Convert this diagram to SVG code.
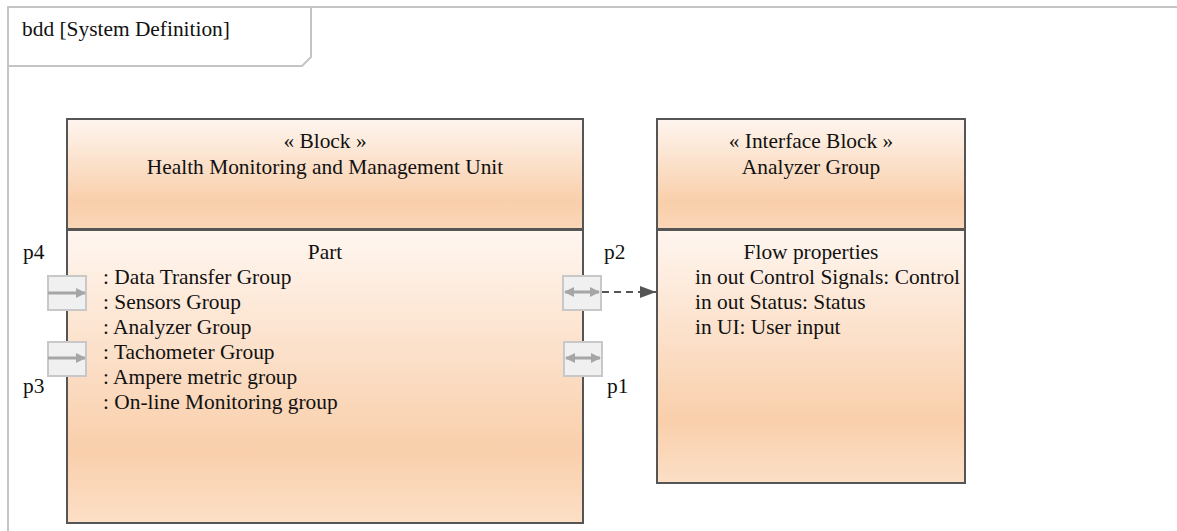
<svg xmlns="http://www.w3.org/2000/svg" width="1177" height="531" viewBox="0 0 1177 531">
<style>
text{font-family:"Liberation Serif","Times New Roman",serif;font-size:21.4px;fill:#111}
.frame{fill:none;stroke:#c4c4c4;stroke-width:2}
.blk{stroke:#555;stroke-width:2}
.port{fill:#f0f0f0;stroke:#c8c8c8;stroke-width:2}
.parr{stroke:#a6a6a6;stroke-width:3;fill:none}
.c{text-anchor:middle}
</style>
<defs>
<linearGradient id="hg" x1="0" y1="0" x2="0" y2="1">
<stop offset="0" stop-color="#fef5ef"/>
<stop offset="0.75" stop-color="#f9cfab"/>
<stop offset="1" stop-color="#fad6b8"/>
</linearGradient>
<linearGradient id="bg" x1="0" y1="0" x2="0" y2="1">
<stop offset="0" stop-color="#fff6f0"/>
<stop offset="0.75" stop-color="#f9cfab"/>
<stop offset="1" stop-color="#fcdfc6"/>
</linearGradient>
<marker id="pa" markerWidth="10" markerHeight="10" refX="9" refY="5" orient="auto" markerUnits="userSpaceOnUse">
<path d="M0,0 L10,5 L0,10 z" fill="#a6a6a6"/>
</marker>
<marker id="pas" markerWidth="10" markerHeight="10" refX="1" refY="5" orient="auto" markerUnits="userSpaceOnUse">
<path d="M10,0 L0,5 L10,10 z" fill="#a6a6a6"/>
</marker>
<marker id="da" markerWidth="16" markerHeight="12" refX="16" refY="6" orient="auto" markerUnits="userSpaceOnUse">
<path d="M0,0 L16,6 L0,12 z" fill="#555"/>
</marker>
</defs>
<g id="frame">
<path class="frame" d="M8,531 L8,7 L1177,7"/>
<path class="frame" d="M8,66 L302,66 L311,57 L311,7"/>
<text x="22" y="36">bdd [System Definition]</text>
</g>
<g id="hmmu">
<rect class="blk" x="67" y="119" width="516" height="110" fill="url(#hg)"/>
<rect class="blk" x="67" y="230" width="516" height="293" fill="url(#bg)"/>
<text class="c" x="325" y="148">« Block »</text>
<text class="c" x="325" y="174">Health Monitoring and Management Unit</text>
<text class="c" x="325" y="259">Part</text>
<text x="103" y="284">: Data Transfer Group</text>
<text x="103" y="309">: Sensors Group</text>
<text x="103" y="334">: Analyzer Group</text>
<text x="103" y="359">: Tachometer Group</text>
<text x="103" y="384">: Ampere metric group</text>
<text x="103" y="409">: On-line Monitoring group</text>
</g>
<g id="analyzer">
<rect class="blk" x="657" y="119" width="308" height="110" fill="url(#hg)"/>
<rect class="blk" x="657" y="230" width="308" height="253" fill="url(#bg)"/>
<text class="c" x="811" y="148">« Interface Block »</text>
<text class="c" x="811" y="174">Analyzer Group</text>
<text class="c" x="811" y="259">Flow properties</text>
<text x="695" y="284">in out Control Signals: Control</text>
<text x="695" y="309">in out Status: Status</text>
<text x="695" y="334">in UI: User input</text>
</g>
<g id="p4">
<rect class="port" x="48" y="276" width="38" height="34"/>
<path class="parr" d="M48,293 L85,293" marker-end="url(#pa)"/>
<text x="23" y="259">p4</text>
</g>
<g id="p3">
<rect class="port" x="48" y="342" width="38" height="34"/>
<path class="parr" d="M48,358 L85,358" marker-end="url(#pa)"/>
<text x="23" y="393">p3</text>
</g>
<g id="p2">
<rect class="port" x="563" y="276" width="38" height="34"/>
<path class="parr" d="M565,292 L599,292" marker-end="url(#pa)" marker-start="url(#pas)"/>
<text x="604" y="259">p2</text>
</g>
<g id="p1">
<rect class="port" x="564" y="342" width="38" height="34"/>
<path class="parr" d="M566,358 L600,358" marker-end="url(#pa)" marker-start="url(#pas)"/>
<text x="607" y="393">p1</text>
</g>
<g id="connectors">
<path d="M602,292 L656,292" stroke="#555" stroke-width="2" stroke-dasharray="7,5" fill="none" marker-end="url(#da)"/>
</g>
</svg>
